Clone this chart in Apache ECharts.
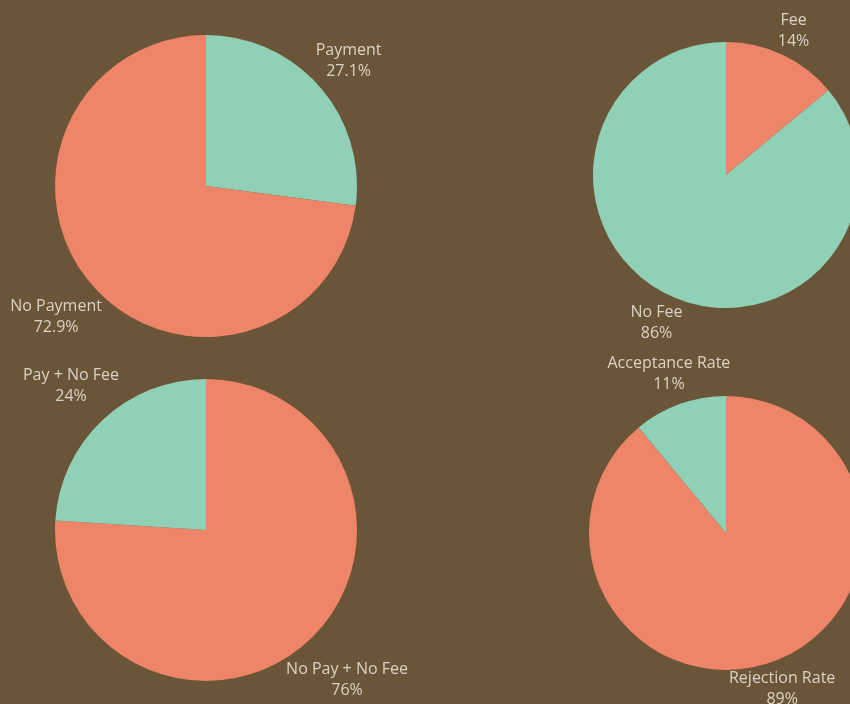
<!DOCTYPE html>
<html>
<head>
<meta charset="utf-8">
<script src="https://cdn.jsdelivr.net/npm/echarts@6/dist/echarts.min.js"></script>
<style>
html,body{margin:0;padding:0;background:#6B5538;}
#chart{width:850px;height:704px;}
</style>
</head>
<body>
<div id="chart"></div>
<script>
// Data
const pie1Names = ['Payment', 'No Payment'];
const pie1Values = [27.1, 72.9];
const pie1Labels = ['27.1%', '72.9%'];

const pie2Names = ['Fee', 'No Fee'];
const pie2Values = [14, 86];
const pie2Labels = ['14%', '86%'];

const pie3Names = ['No Pay + No Fee', 'Pay + No Fee'];
const pie3Values = [76, 24];
const pie3Labels = ['76%', '24%'];

const pie4Names = ['Rejection Rate', 'Acceptance Rate'];
const pie4Values = [89, 11];
const pie4Labels = ['89%', '11%'];

const CORAL = '#EE8468';
const MINT = '#8FD0B7';

const pies = [
  {names: pie1Names, values: pie1Values, labels: pie1Labels, colors: [MINT, CORAL], center: [206, 186], r: 151, gap: 0},
  {names: pie2Names, values: pie2Values, labels: pie2Labels, colors: [CORAL, MINT], center: [726, 175], r: 133, gap: 0},
  {names: pie3Names, values: pie3Values, labels: pie3Labels, colors: [CORAL, MINT], center: [206, 530], r: 151, gap: -2},
  {names: pie4Names, values: pie4Values, labels: pie4Labels, colors: [CORAL, MINT], center: [726, 533], r: 137, gap: -9}
];

const chart = echarts.init(document.getElementById('chart'), null, {renderer: 'canvas'});

const series = pies.map((p, si) => {
  const total = p.values.reduce((a, b) => a + b, 0);
  const mids = [];
  let acc = 0;
  p.values.forEach(v => { mids.push((acc + v / 2) / total * 2 * Math.PI); acc += v; });
  return {
    type: 'pie',
    center: p.center,
    radius: [0, p.r],
    startAngle: 90,
    clockwise: true,
    silent: true,
    animation: false,
    data: p.names.map((n, i) => ({name: n, value: p.values[i], itemStyle: {color: p.colors[i]}})),
    label: {
      show: true,
      position: 'outside',
      formatter: (prm) => prm.name + '\n' + p.labels[prm.dataIndex],
      color: '#DCD3C3',
      fontFamily: 'Open Sans',
      fontSize: 16,
      lineHeight: 21,
      align: 'center',
      overflow: 'none'
    },
    labelLine: {show: false},
    labelLayout: (params) => {
      const a = mids[params.dataIndex];
      const ux = Math.sin(a), uy = -Math.cos(a);
      const w = params.labelRect.width, h = params.labelRect.height;
      const d = p.r + p.gap + Math.abs(ux) * w / 2 + Math.abs(uy) * h / 2;
      return {x: p.center[0] + d * ux, y: p.center[1] + d * uy, align: 'center', verticalAlign: 'middle'};
    }
  };
});

chart.setOption({
  backgroundColor: '#6B5538',
  animation: false,
  series: series
});
</script>
</body>
</html>
